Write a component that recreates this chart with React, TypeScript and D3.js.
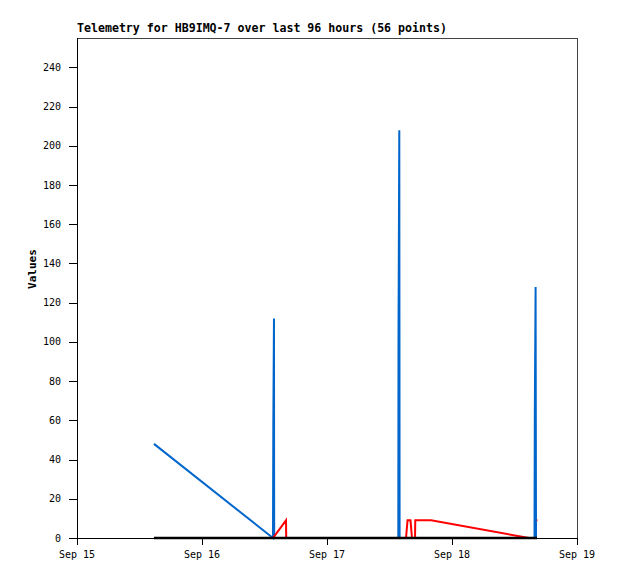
import React from "react";
import * as d3 from "d3";

const TITLE = "Telemetry for HB9IMQ-7 over last 96 hours (56 points)";
const Y_LABEL = "Values";
const START = Date.UTC(2023, 8, 15, 0, 0, 0);
const END = Date.UTC(2023, 8, 19, 0, 0, 0);
const Y_TICKS = [0, 20, 40, 60, 80, 100, 120, 140, 160, 180, 200, 220, 240];

// hours after Sep 15 00:00
const blueHours = [14.78, 37.63, 37.69, 37.82, 37.86, 61.69, 61.73, 61.88, 61.94, 87.84, 87.9, 88.05, 88.13];
const blueValues = [48, 0, 56, 112, 0, 0, 104, 208, 0, 0, 64, 128, 0];

const redHours = [14.78, 37.63, 40.13, 40.17, 63.17, 63.46, 64.03, 64.32, 64.9, 64.95, 67.97, 86.78, NaN, 88.28, 88.4];
const redValues = [0, 0, 9, 0, 0, 9, 9, 0, 0, 9, 9, 0, NaN, 9, 9];

const blackHours = [14.78, 88.32];
const blackValues = [0, 0];

type P = { t: number; v: number };
const toPts = (h: number[], v: number[]): P[] =>
  h.map((hh, i) => ({ t: START + hh * 3600000, v: v[i] }));

export default function App() {
  const W = 618, H = 579;
  const left = 77, right = 577, top = 38, bottom = 538;
  const x = d3.scaleUtc().domain([START, END]).range([left, right]);
  const y = d3.scaleLinear().domain([0, 255]).range([bottom, top]);
  const xTicks = d3.utcDay.range(new Date(START), new Date(END + 1));
  const fmt = d3.utcFormat("%b %d");
  const line = d3
    .line<P>()
    .defined((d) => !isNaN(d.t) && !isNaN(d.v))
    .x((d) => x(d.t))
    .y((d) => y(d.v));
  const mono = "'DejaVu Sans Mono', 'Liberation Mono', monospace";
  return (
    <svg width={W} height={H} style={{ position: "absolute", left: 0, top: 0, background: "#fff" }}>
      <rect x={0} y={0} width={W} height={H} fill="#fff" />
      <text x={left} y={32} fontFamily={mono} fontWeight="bold" fontSize={11.6} fill="#000">
        {TITLE}
      </text>
      {/* frame */}
      <g shapeRendering="crispEdges">
        <line x1={left} x2={right} y1={top + 0.5} y2={top + 0.5} stroke="#444" />
        <line x1={right + 0.5} x2={right + 0.5} y1={top} y2={bottom} stroke="#444" />
        <line x1={left + 0.5} x2={left + 0.5} y1={top} y2={bottom + 1} stroke="#000" />
        <line x1={left} x2={right + 1} y1={bottom + 0.5} y2={bottom + 0.5} stroke="#000" />
      </g>
      {/* y axis */}
      <g fontFamily={mono} fontSize={10} fill="#000">
        {Y_TICKS.map((t) => (
          <g key={t}>
            <line x1={69} x2={left} y1={Math.round(y(t)) + 0.5} y2={Math.round(y(t)) + 0.5} stroke="#000" shapeRendering="crispEdges" />
            <text x={61} y={y(t) + 3.5} textAnchor="end">{t}</text>
          </g>
        ))}
      </g>
      <text
        transform={`translate(36,269) rotate(-90)`}
        textAnchor="middle"
        fontFamily={mono}
        fontWeight="bold"
        fontSize={11}
        fill="#000"
      >
        {Y_LABEL}
      </text>
      {/* x axis */}
      <g fontFamily={mono} fontSize={10} fill="#000">
        {xTicks.map((d) => (
          <g key={+d}>
            <line x1={Math.round(x(d)) + 0.5} x2={Math.round(x(d)) + 0.5} y1={bottom} y2={545} stroke="#000" shapeRendering="crispEdges" />
            <text x={x(d)} y={558} textAnchor="middle">{fmt(d)}</text>
          </g>
        ))}
      </g>
      {/* series */}
      <path d={line(toPts(blueHours, blueValues)) || ""} fill="none" stroke="#0066cc" strokeWidth={2} />
      <path d={line(toPts(redHours, redValues)) || ""} fill="none" stroke="#ff0000" strokeWidth={2} />
      <path d={line(toPts(blackHours, blackValues)) || ""} fill="none" stroke="#000" strokeWidth={2.5} />
    </svg>
  );
}
